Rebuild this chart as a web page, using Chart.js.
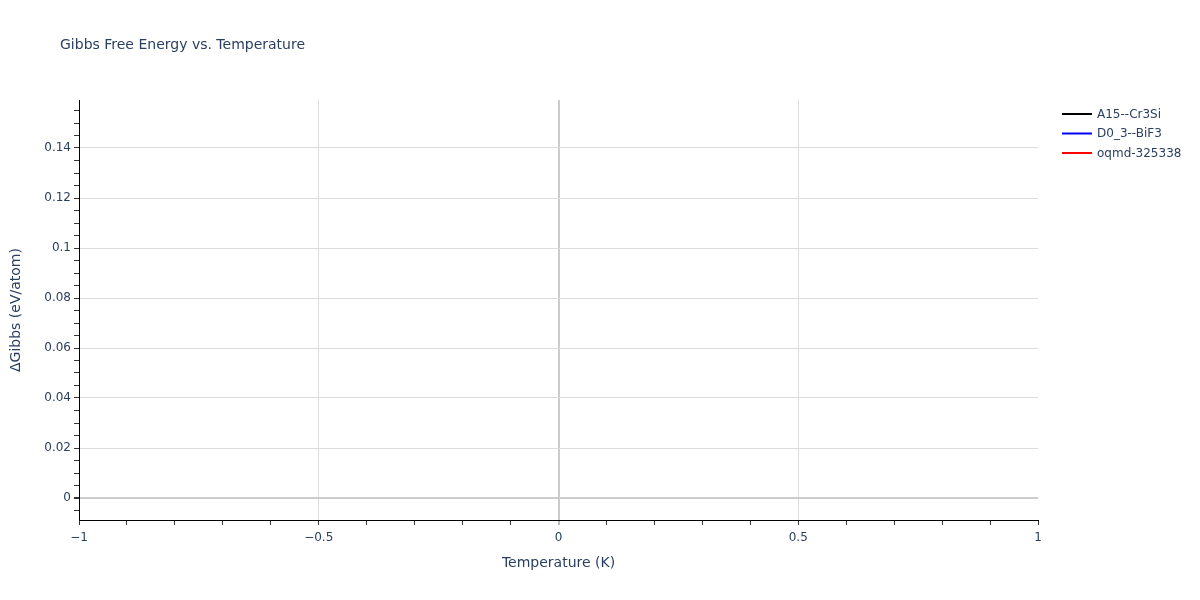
<!DOCTYPE html>
<html>
<head>
<meta charset="utf-8">
<script src="https://cdn.jsdelivr.net/npm/chart.js@4"></script>
<style>
  html, body { margin: 0; padding: 0; background: #fff; }
  #wrap { width: 1200px; height: 600px; }
</style>
</head>
<body>
<div id="wrap"><canvas id="gibbsChart" width="1200" height="600"></canvas></div>
<script>
// series names and colours (no points are plotted in the source figure)
const seriesNames = ['A15--Cr3Si', 'D0_3--BiF3', 'oqmd-325338'];
const seriesColors = ['#000000', '#0000ff', '#ff0000'];
const a15Data = [];
const d03Data = [];
const oqmdData = [];

// axis ranges and tick values
const xRange = [-1, 1];
const yRange = [-0.0088, 0.1592];
const xMajorTicks = [-1, -0.5, 0, 0.5, 1];
const xMinorTicks = [-1, -0.9, -0.8, -0.7, -0.6, -0.5, -0.4, -0.3, -0.2, -0.1, 0, 0.1, 0.2, 0.3, 0.4, 0.5, 0.6, 0.7, 0.8, 0.9, 1];
const yMajorTicks = [0, 0.02, 0.04, 0.06, 0.08, 0.1, 0.12, 0.14];
const yMinorTicks = [-0.005, 0, 0.005, 0.01, 0.015, 0.02, 0.025, 0.03, 0.035, 0.04, 0.045, 0.05, 0.055, 0.06, 0.065, 0.07, 0.075, 0.08, 0.085, 0.09, 0.095, 0.1, 0.105, 0.11, 0.115, 0.12, 0.125, 0.13, 0.135, 0.14, 0.145, 0.15, 0.155];

const textColor = '#2a3f5f'
const fontFam = '"DejaVu Sans", Verdana, sans-serif'

function isMajor(list, v) {
  return list.some(t => Math.abs(t - v) < 1e-9)
}

function fmtTick(v) {
  let s = (Math.round(v * 1000) / 1000).toString()
  return s.replace('-', '\u2212')
}

// title and legend drawn beside the plot, like the original
const sidePlugin = {
  id: 'side',
  afterDraw(chart) {
    const c = chart.ctx
    c.save()
    c.fillStyle = textColor
    c.textBaseline = 'middle'
    c.textAlign = 'left'
    c.font = '14px ' + fontFam
    c.fillText('Gibbs Free Energy vs. Temperature', 60, 45)

    c.font = '12px ' + fontFam
    chart.data.datasets.forEach((ds, i) => {
      const y = 114 + i * 19.5
      c.strokeStyle = ds.borderColor
      c.lineWidth = 2
      c.beginPath()
      c.moveTo(1062, y)
      c.lineTo(1092, y)
      c.stroke()
      c.fillStyle = textColor
      c.fillText(ds.label, 1097, y + 0.5)
    })
    c.restore()
  }
}

new Chart('gibbsChart', {
  type: 'line',
  data: {
    datasets: [{
      label: seriesNames[0],
      data: a15Data,
      borderColor: seriesColors[0],
      borderWidth: 2,
      pointRadius: 0,
      fill: false
    }, {
      label: seriesNames[1],
      data: d03Data,
      borderColor: seriesColors[1],
      borderWidth: 2,
      pointRadius: 0,
      fill: false
    }, {
      label: seriesNames[2],
      data: oqmdData,
      borderColor: seriesColors[2],
      borderWidth: 2,
      pointRadius: 0,
      fill: false
    }]
  },
  options: {
    responsive: false,
    animation: false,
    layout: { padding: { top: 100, right: 162, bottom: 0, left: 0 } },
    plugins: {
      legend: { display: false },
      title: { display: false },
      tooltip: { enabled: false }
    },
    scales: {
      x: {
        type: 'linear',
        min: xRange[0],
        max: xRange[1],
        afterBuildTicks: s => { s.ticks = xMinorTicks.map(v => ({ value: v })) },
        afterFit: s => { s.height = 80 },
        ticks: {
          color: textColor,
          font: { family: fontFam, size: 12 },
          padding: 6,
          maxRotation: 0,
          autoSkip: false,
          callback: v => isMajor(xMajorTicks, v) ? fmtTick(v) : ''
        },
        grid: {
          drawOnChartArea: true,
          tickLength: 5,
          color: ctx => {
            const v = ctx.tick ? ctx.tick.value : null
            if (v === null || Math.abs(v) === 1) return 'rgba(0,0,0,0)'
            if (Math.abs(v) < 1e-9) return '#cccccc'
            return isMajor(xMajorTicks, v) ? '#dcdcdc' : 'rgba(0,0,0,0)'
          },
          lineWidth: ctx => (ctx.tick && Math.abs(ctx.tick.value) < 1e-9) ? 2 : 1,
          tickColor: ctx => (ctx.tick && Math.abs(ctx.tick.value) < 1e-9) ? '#bbbbbb' : '#333333'
        },
        border: { display: true, color: '#000000', width: 1 },
        title: {
          display: true,
          text: 'Temperature (K)',
          color: textColor,
          font: { family: fontFam, size: 14 },
          padding: { top: 0, bottom: 28 }
        }
      },
      y: {
        type: 'linear',
        min: yRange[0],
        max: yRange[1],
        afterBuildTicks: s => { s.ticks = yMinorTicks.map(v => ({ value: v })) },
        afterFit: s => { s.width = 79 },
        ticks: {
          color: textColor,
          font: { family: fontFam, size: 12 },
          padding: 3,
          autoSkip: false,
          callback: v => isMajor(yMajorTicks, v) ? fmtTick(v) : ''
        },
        grid: {
          tickLength: 5,
          color: ctx => {
            const v = ctx.tick ? ctx.tick.value : null
            if (v === null) return 'rgba(0,0,0,0)'
            if (Math.abs(v) < 1e-9) return '#cccccc'
            return isMajor(yMajorTicks, v) ? '#dcdcdc' : 'rgba(0,0,0,0)'
          },
          lineWidth: ctx => (ctx.tick && Math.abs(ctx.tick.value) < 1e-9) ? 2 : 1,
          tickColor: '#333333'
        },
        border: { display: true, color: '#000000', width: 1 },
        title: {
          display: true,
          text: '\u0394Gibbs (eV/atom)',
          color: textColor,
          font: { family: fontFam, size: 14 },
          padding: { top: 7.6, bottom: 0 }
        }
      }
    }
  },
  plugins: [sidePlugin]
});
</script>
</body>
</html>
